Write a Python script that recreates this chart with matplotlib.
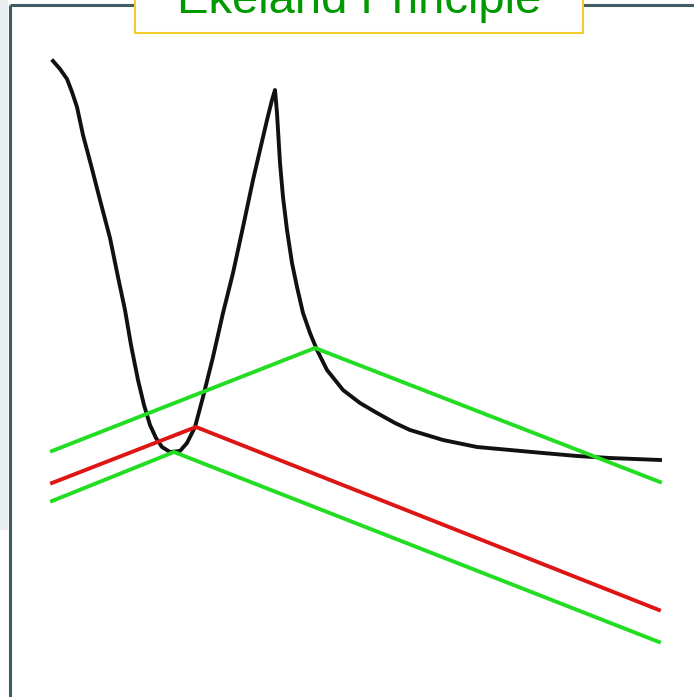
import matplotlib
matplotlib.use("Agg")
import matplotlib.pyplot as plt
from matplotlib.patches import Rectangle

# values (pixel units, y grows downwards)
curve_x = [53, 60, 67, 72, 77, 83, 91, 100, 110, 118, 125, 131, 138, 144, 150,
           156, 162, 170, 180, 187, 195, 203, 213, 223, 233, 243, 253, 260,
           267, 272, 275, 277, 280, 283, 287, 292, 297, 303, 310, 317, 327,
           343, 360, 377, 395, 410, 443, 477, 510, 543, 577, 610, 660]
curve_y = [61, 69, 79, 92, 107, 135, 165, 200, 238, 277, 310, 345, 380, 405, 425,
           438, 447, 452, 451, 443, 427, 397, 357, 313, 273, 227, 180, 150,
           120, 100, 90, 113, 163, 197, 230, 263, 287, 313, 333, 350, 370,
           390, 403, 413, 423, 430, 440, 447, 450, 453, 456, 458, 460]

upper_green_x = [52, 315, 660]
upper_green_y = [451, 348, 482]
red_x = [52, 196, 659]
red_y = [483, 427, 610]
lower_green_x = [52, 174, 659]
lower_green_y = [501, 452, 642]

title = "Ekeland Principle"

fig = plt.figure(figsize=(6.94, 6.97), dpi=100)
ax = fig.add_axes([0, 0, 1, 1])
ax.set_xlim(0, 694)
ax.set_ylim(697, 0)
ax.axis("off")

# slide frame
ax.add_patch(Rectangle((0, 0), 8, 530, color="#e9edef", lw=0, zorder=0))
ax.plot([10.5, 10.5], [5, 697], color="#3e5d64", lw=2.2, solid_capstyle="butt")
ax.plot([10.5, 694], [5, 5], color="#3e5d64", lw=2.2, solid_capstyle="butt")

# curve and cones
ax.plot(curve_x, curve_y, color="#111111", lw=2.8, solid_joinstyle="round")
ax.plot(upper_green_x, upper_green_y, color="#22dd22", lw=2.8)
ax.plot(lower_green_x, lower_green_y, color="#22dd22", lw=2.8)
ax.plot(red_x, red_y, color="#dd1515", lw=2.8)

# title box, cut off at the top as in the slide
ax.add_patch(Rectangle((135, -20), 448, 53, facecolor="white",
                       edgecolor="#f5cc30", lw=1.5, zorder=5))
ax.text(359, 13, title, color="#009900", fontsize=34, family="Liberation Sans",
        ha="center", va="baseline", zorder=6)

fig.savefig("out.png", dpi=100)
